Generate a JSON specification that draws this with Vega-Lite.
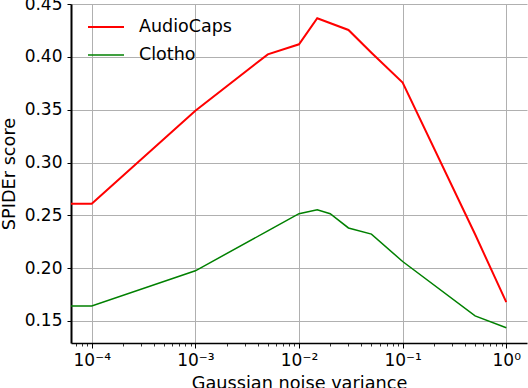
{
  "$schema": "https://vega.github.io/schema/vega-lite/v6.json",
  "width": 456,
  "height": 339,
  "autosize": {"type": "none"},
  "padding": {"left": 71, "top": 4, "right": 1, "bottom": 45},
  "background": "white",
  "config": {
    "font": "DejaVu Sans",
    "view": {"stroke": null},
    "axis": {
      "labelFont": "DejaVu Sans",
      "titleFont": "DejaVu Sans",
      "labelFontSize": 17,
      "titleFontSize": 17.7,
      "titleFontWeight": "normal",
      "labelColor": "black",
      "titleColor": "black",
      "domainColor": "black",
      "tickColor": "black",
      "gridColor": "#b0b0b0",
      "gridWidth": 1,
      "gridOpacity": 1
    }
  },
  "data": {
    "values": [
      {"series": "AudioCaps", "variance": 0.00001, "score": 0.261},
      {"series": "AudioCaps", "variance": 0.0001, "score": 0.261},
      {"series": "AudioCaps", "variance": 0.001, "score": 0.349},
      {"series": "AudioCaps", "variance": 0.005, "score": 0.4025},
      {"series": "AudioCaps", "variance": 0.01, "score": 0.412},
      {"series": "AudioCaps", "variance": 0.015, "score": 0.4367},
      {"series": "AudioCaps", "variance": 0.03, "score": 0.4256},
      {"series": "AudioCaps", "variance": 0.05, "score": 0.404},
      {"series": "AudioCaps", "variance": 0.1, "score": 0.3757},
      {"series": "AudioCaps", "variance": 0.5, "score": 0.232},
      {"series": "AudioCaps", "variance": 1, "score": 0.1677},
      {"series": "Clotho", "variance": 0.00001, "score": 0.1641},
      {"series": "Clotho", "variance": 0.0001, "score": 0.1641},
      {"series": "Clotho", "variance": 0.001, "score": 0.1974},
      {"series": "Clotho", "variance": 0.005, "score": 0.2352},
      {"series": "Clotho", "variance": 0.01, "score": 0.2515},
      {"series": "Clotho", "variance": 0.015, "score": 0.2553},
      {"series": "Clotho", "variance": 0.02, "score": 0.2515},
      {"series": "Clotho", "variance": 0.03, "score": 0.238},
      {"series": "Clotho", "variance": 0.05, "score": 0.2322},
      {"series": "Clotho", "variance": 0.1, "score": 0.2062},
      {"series": "Clotho", "variance": 0.5, "score": 0.1547},
      {"series": "Clotho", "variance": 1, "score": 0.1435}
    ]
  },
  "layer": [
    {
      "mark": {"type": "line", "clip": true},
      "encoding": {
        "x": {
          "field": "variance",
          "type": "quantitative",
          "scale": {"type": "log", "domain": [0.000063096, 1.5849], "nice": false},
          "axis": {
            "values": [0.0001, 0.001, 0.01, 0.1, 1],
            "labelExpr": "datum.value < 0.0002 ? '10⁻⁴' : datum.value < 0.002 ? '10⁻³' : datum.value < 0.02 ? '10⁻²' : datum.value < 0.2 ? '10⁻¹' : '10⁰'",
            "title": "Gaussian noise variance",
            "tickSize": 5,
            "tickWidth": 1,
            "domainWidth": 1.5,
            "labelPadding": 4,
            "titlePadding": 6,
            "grid": true,
            "labelFlush": false
          }
        },
        "y": {
          "field": "score",
          "type": "quantitative",
          "scale": {"domain": [0.129, 0.4502], "nice": false, "zero": false},
          "axis": {
            "values": [0.15, 0.2, 0.25, 0.3, 0.35, 0.4, 0.45],
            "format": ".2f",
            "title": "SPIDEr score",
            "tickSize": 4,
            "tickWidth": 1,
            "domainWidth": 2,
            "labelPadding": 5,
            "titlePadding": 6,
            "grid": true
          }
        },
        "color": {
          "field": "series",
          "type": "nominal",
          "scale": {"domain": ["AudioCaps", "Clotho"], "range": ["#ff0000", "#008000"]},
          "legend": {
            "title": null,
            "orient": "none",
            "legendX": 16,
            "legendY": 4,
            "padding": 0,
            "symbolType": "stroke",
            "symbolSize": 1296,
            "symbolStrokeWidth": 1.8,
            "labelFontSize": 17.5,
            "labelFont": "DejaVu Sans",
            "labelColor": "black",
            "labelOffset": 14,
            "rowPadding": -10,
            "fillColor": null,
            "strokeColor": null
          }
        },
        "strokeWidth": {
          "field": "series",
          "type": "nominal",
          "scale": {"domain": ["AudioCaps", "Clotho"], "range": [2, 1.5]},
          "legend": null
        }
      }
    },
    {
      "mark": {"type": "point", "opacity": 0},
      "encoding": {
        "x": {
          "field": "variance",
          "type": "quantitative",
          "axis": {
            "orient": "bottom",
            "values": [0.00007, 0.00008, 0.00009, 0.0002, 0.0003, 0.0004, 0.0005, 0.0006, 0.0007, 0.0008, 0.0009, 0.002, 0.003, 0.004, 0.005, 0.006, 0.007, 0.008, 0.009, 0.02, 0.03, 0.04, 0.05, 0.06, 0.07, 0.08, 0.09, 0.2, 0.3, 0.4, 0.5, 0.6, 0.7, 0.8, 0.9],
            "labels": false,
            "grid": false,
            "domain": false,
            "tickSize": 3,
            "tickWidth": 0.8,
            "title": null
          }
        },
        "y": {"field": "score", "type": "quantitative"}
      }
    }
  ],
  "resolve": {"axis": {"x": "independent"}}
}
